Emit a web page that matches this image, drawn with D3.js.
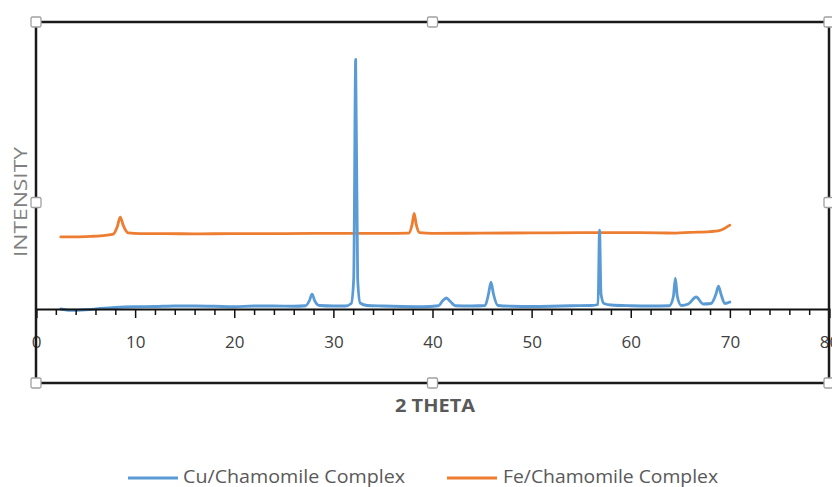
<!DOCTYPE html>
<html>
<head>
<meta charset="utf-8">
<script src="https://cdn.jsdelivr.net/npm/d3@7"></script>
<style>
  html, body { margin: 0; padding: 0; background: #fff; }
  svg { display: block; }
</style>
</head>
<body>
<svg id="chart" width="832" height="487"></svg>
<script>
// ---- data ----
const cuTheta = [2.5, 3.5, 5, 6.5, 8, 10, 12, 14, 16, 18, 20, 22, 24, 26, 27.2, 27.6, 27.85, 28.1, 28.6, 30, 31.2, 31.8, 32.05, 32.25, 32.45, 32.7, 33.4, 35, 37, 39, 40.6, 41.0, 41.4, 41.8, 42.3, 44, 45.3, 45.65, 45.9, 46.15, 46.6, 48, 50, 52, 54, 56, 56.7, 56.85, 57.0, 57.3, 58, 60, 62, 63.9, 64.3, 64.5, 64.7, 65.1, 65.8, 66.6, 67.3, 68.1, 68.6, 68.85, 69.1, 69.5, 70];
const cuIntensity = [0, -5, -3, 2, 6, 9, 10, 12, 12, 11, 9, 12, 12, 11, 13, 35, 60, 35, 14, 12, 12, 22, 120, 1000, 120, 24, 14, 12, 10, 9, 13, 32, 44, 30, 13, 12, 14, 60, 108, 60, 14, 11, 10, 11, 13, 14, 18, 316, 60, 22, 16, 13, 12, 13, 50, 124, 50, 14, 20, 48, 20, 22, 60, 92, 60, 22, 28];

const feTheta = [2.5, 4, 5.5, 7, 7.8, 8.2, 8.5, 8.8, 9.3, 10.5, 13, 16, 20, 25, 30, 35, 37.6, 37.95, 38.15, 38.35, 38.7, 40, 45, 50, 55, 60, 63, 64.5, 66, 68, 68.8, 69.4, 70];
const feIntensity = [289, 289, 291, 295, 300, 330, 368, 335, 305, 302, 302, 301, 302, 302, 303, 303, 304, 340, 383, 340, 306, 303, 304, 305, 306, 306, 305, 304, 307, 310, 313, 322, 336];

const seriesNames = ["Cu/Chamomile Complex", "Fe/Chamomile Complex"];
const seriesColors = ["#5B9BD5", "#ED7D31"];
const majorTicks = [0, 10, 20, 30, 40, 50, 60, 70, 80];
const minorTicks = d3.range(2, 80, 2).filter(v => v % 10 !== 0);
const xTitle = "2 THETA";
const yTitle = "INTENSITY";

// ---- layout ----
const svg = d3.select("#chart");
const pLeft = 36, pRight = 829, pTop = 22, pBottom = 383, axisY = 309;
const FONT = "'Open Sans', 'Noto Sans', sans-serif";

const x = d3.scaleLinear().domain([0, 80]).range([pLeft, pRight]);
const y = d3.scaleLinear().domain([0, 1150]).range([axisY, pTop]);

const line = d3.line()
  .x(d => x(d[0]))
  .y(d => y(d[1]))
  .curve(d3.curveMonotoneX);

const cuData = d3.zip(cuTheta, cuIntensity);
const feData = d3.zip(feTheta, feIntensity);

// series lines
svg.append("path").datum(feData)
  .attr("d", line).attr("fill", "none")
  .attr("stroke", seriesColors[1]).attr("stroke-width", 2.8)
  .attr("stroke-linejoin", "round").attr("stroke-linecap", "round");
svg.append("path").datum(cuData)
  .attr("d", line).attr("fill", "none")
  .attr("stroke", seriesColors[0]).attr("stroke-width", 2.8)
  .attr("stroke-linejoin", "round").attr("stroke-linecap", "round");

// minor ticks
const minorAxis = svg.append("g").attr("transform", `translate(0,${axisY})`)
  .call(d3.axisBottom(x).tickValues(minorTicks).tickSize(6).tickFormat(""));
minorAxis.select(".domain").remove();
minorAxis.selectAll("line").attr("stroke", "#111").attr("stroke-width", 1.5);

// major ticks + labels
const majorAxis = svg.append("g").attr("transform", `translate(0,${axisY})`)
  .call(d3.axisBottom(x).tickValues(majorTicks).tickSize(9).tickFormat(d3.format("d")));
majorAxis.select(".domain").attr("stroke", "#111").attr("stroke-width", 2);
majorAxis.selectAll("line").attr("stroke", "#111").attr("stroke-width", 1.5);
majorAxis.selectAll("text")
  .attr("y", 39).attr("dy", null)
  .attr("font-family", FONT).attr("font-size", 17)
  .attr("fill", "#404040");

// axis titles
svg.append("text")
  .attr("x", 435).attr("y", 412)
  .attr("text-anchor", "middle")
  .attr("font-family", FONT).attr("font-size", 18).attr("font-weight", "bold")
  .attr("fill", "#595959")
  .attr("textLength", 80).attr("lengthAdjust", "spacingAndGlyphs")
  .text(xTitle);

svg.append("text")
  .attr("transform", "translate(27,202) rotate(-90)")
  .attr("text-anchor", "middle")
  .attr("font-family", FONT).attr("font-size", 18)
  .attr("fill", "#808080")
  .attr("textLength", 110).attr("lengthAdjust", "spacingAndGlyphs")
  .text(yTitle);

// frame
svg.append("rect")
  .attr("x", pLeft).attr("y", pTop)
  .attr("width", pRight - pLeft).attr("height", pBottom - pTop)
  .attr("fill", "none").attr("stroke", "#1a1a1a").attr("stroke-width", 2.5);

// selection handles
const midX = (pLeft + pRight) / 2, midY = (pTop + pBottom) / 2;
const handles = [[pLeft, pTop], [midX, pTop], [pRight, pTop], [pLeft, midY], [pRight, midY], [pLeft, pBottom], [midX, pBottom], [pRight, pBottom]];
svg.selectAll("rect.handle").data(handles).enter().append("rect")
  .attr("class", "handle")
  .attr("x", d => d[0] - 5).attr("y", d => d[1] - 5)
  .attr("width", 10).attr("height", 10).attr("rx", 1.5)
  .attr("fill", "#fff").attr("stroke", "#a0a0a0").attr("stroke-width", 1.3);

// legend
const legendItems = [
  { name: seriesNames[0], color: seriesColors[0], x0: 128, x1: 178, tx: 183, tl: 222 },
  { name: seriesNames[1], color: seriesColors[1], x0: 447, x1: 497, tx: 503, tl: 215 }
];
const lg = svg.append("g");
legendItems.forEach(it => {
  lg.append("line")
    .attr("x1", it.x0).attr("x2", it.x1).attr("y1", 478).attr("y2", 478)
    .attr("stroke", it.color).attr("stroke-width", 3);
  lg.append("text")
    .attr("x", it.tx).attr("y", 483)
    .attr("font-family", FONT).attr("font-size", 18)
    .attr("fill", "#595959")
    .attr("textLength", it.tl).attr("lengthAdjust", "spacingAndGlyphs")
    .text(it.name);
});
</script>
</body>
</html>
